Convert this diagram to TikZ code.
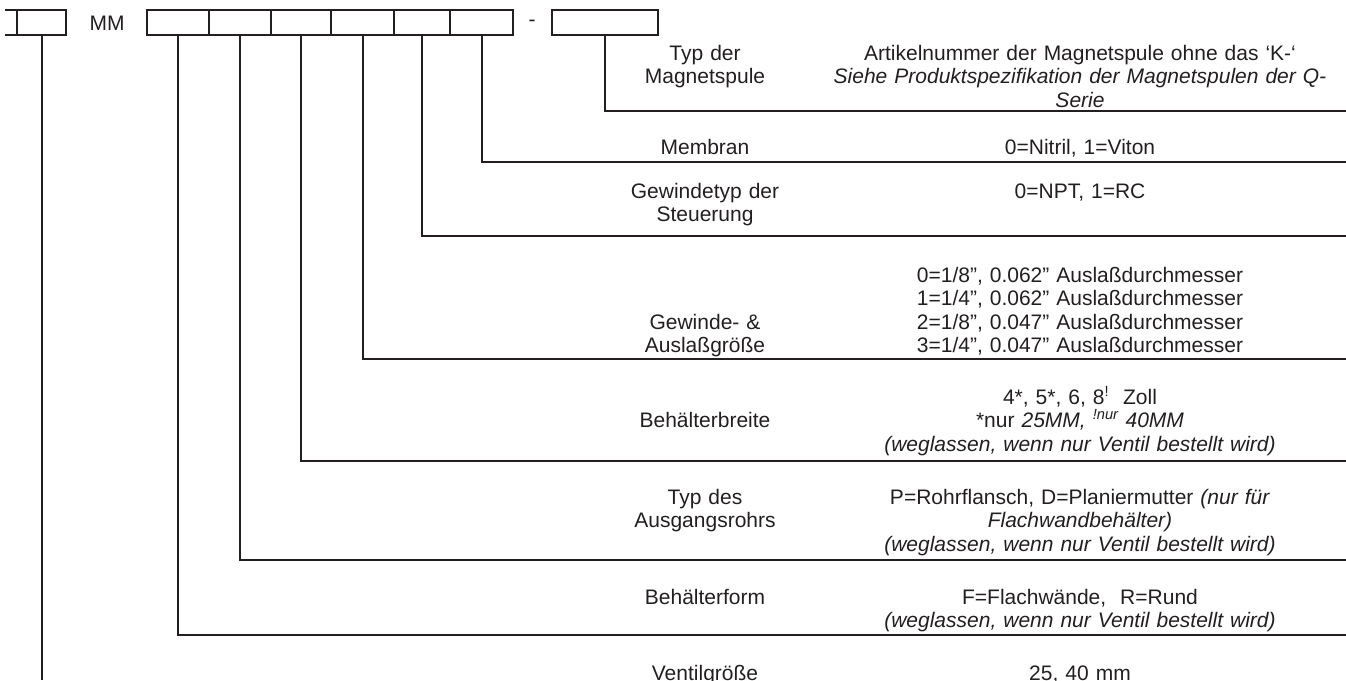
\documentclass[tikz,border=0pt]{standalone}
\usepackage{fontspec}
\setmainfont{Liberation Sans}
\usepackage{tikz}
\definecolor{ink}{HTML}{231F20}
\tikzset{
  cell/.style={shape=rectangle, draw=ink, line width=1.8pt, outer sep=0pt, inner sep=0pt, minimum height=25pt},
  wire/.style={draw=ink, line width=2pt},
  keytext/.style={inner sep=0pt, text=ink, font=\fontsize{21}{23.5}\selectfont},
  lefttext/.style={keytext, anchor=base, text width=260pt, align=center},
  righttext/.style={keytext, anchor=base, text width=620pt, align=center},
}

\begin{document}
\begin{tikzpicture}[x=1pt, y=-1pt]
  \useasboundingbox (0,0) rectangle (1346,680);
  % Paths, nodes and wires:
  \node[cell, minimum width=49pt](B0) at (41.5, 22.5){};
  \draw[wire] (B0.north west) -- ++(-12,0);
  \draw[wire] (B0.south west) -- ++(-12,0);
  \node[keytext](MM) at (107, 23){MM};
  \node[cell, minimum width=62pt](B1) at (178, 22.5){};
  \node[cell, minimum width=62pt](B2) at (240, 22.5){};
  \node[cell, minimum width=60pt](B3) at (301, 22.5){};
  \node[cell, minimum width=63pt](B4) at (362.5, 22.5){};
  \node[cell, minimum width=56pt](B5) at (422, 22.5){};
  \node[cell, minimum width=63pt](B6) at (481.5, 22.5){};
  \node[keytext](D) at (532, 23){-};
  \node[cell, minimum width=106pt](B7) at (605, 22.5){};

  \coordinate (E0) at (41.5, 680);
  \coordinate (E1) at (1346, 635);
  \coordinate (E2) at (1346, 560);
  \coordinate (E3) at (1346, 461);
  \coordinate (E4) at (1346, 359);
  \coordinate (E5) at (1346, 236);
  \coordinate (E6) at (1346, 162);
  \coordinate (E7) at (1346, 111);
  \draw[wire] (B0.south) -- (E0);
  \draw[wire] (B1.south) |- (E1);
  \draw[wire] (B2.south) |- (E2);
  \draw[wire] (B3.south) |- (E3);
  \draw[wire] (B4.south) |- (E4);
  \draw[wire] (B5.south) |- (E5);
  \draw[wire] (B6.south) |- (E6);
  \draw[wire] (B7.south) |- (E7);

  % labels
  \node[lefttext](L7) at (705, 60){Typ der\\ Magnetspule};
  \node[righttext](R7) at (1080, 60){Artikelnummer der Magnetspule ohne das ‘K-‘\\
    \textit{Siehe Produktspezifikation der Magnetspulen der Q-}\\ \textit{Serie}};
  \node[lefttext](L6) at (705, 154){Membran};
  \node[righttext](R6) at (1080, 154){0=Nitril, 1=Viton};
  \node[lefttext](L5) at (705, 198){Gewindetyp der\\ Steuerung};
  \node[righttext](R5) at (1080, 198){0=NPT, 1=RC};
  \node[lefttext](L4) at (705, 329){Gewinde- \&\\ Auslaßgröße};
  \node[righttext](R4) at (1080, 282){0=1/8”, 0.062” Auslaßdurchmesser\\
    1=1/4”, 0.062” Auslaßdurchmesser\\
    2=1/8”, 0.047” Auslaßdurchmesser\\
    3=1/4”, 0.047” Auslaßdurchmesser};
  \node[lefttext](L3) at (705, 427){Behälterbreite};
  \node[righttext](R3) at (1080, 404){4*, 5*, 6, 8\textsuperscript{!}\ \ Zoll\\
    {*}nur \textit{25MM, \textsuperscript{!nur} 40MM}\\
    \textit{(weglassen, wenn nur Ventil bestellt wird)}};
  \node[lefttext](L2) at (705, 504){Typ des\\ Ausgangsrohrs};
  \node[righttext](R2) at (1080, 504){P=Rohrflansch, D=Planiermutter \textit{(nur für}\\
    \textit{Flachwandbehälter)}\\
    \textit{(weglassen, wenn nur Ventil bestellt wird)}};
  \node[lefttext](L1) at (705, 604){Behälterform};
  \node[righttext](R1) at (1080, 604){F=Flachwände,\ \ R=Rund\\
    \textit{(weglassen, wenn nur Ventil bestellt wird)}};
  \node[lefttext](L0) at (705, 680){Ventilgröße};
  \node[righttext](R0) at (1080, 680){25, 40 mm};
\end{tikzpicture}
\end{document}
